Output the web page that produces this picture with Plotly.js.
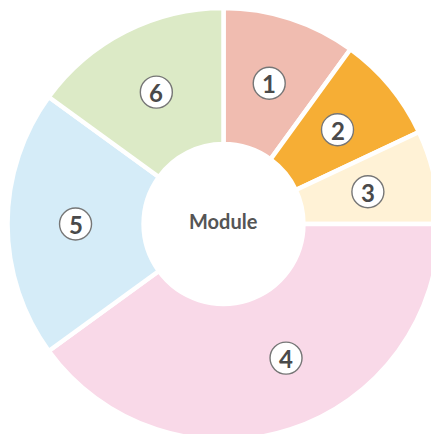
<!DOCTYPE html>
<html>
<head>
<meta charset="utf-8">
<script src="https://cdn.plot.ly/plotly-3.0.1.min.js"></script>
<style>
html,body{margin:0;padding:0;overflow:hidden;background:#fff;width:431px;height:434px;}
#chart{width:450px;height:450px;}
</style>
</head>
<body>
<div id="chart"></div>
<script>
// Data
var labels = ["1", "2", "3", "4", "5", "6"];
var values = [10, 8, 7, 40, 20, 15];
var colors = ["#F0BCB0", "#F6AE35", "#FFF2D6", "#F9D9E8", "#D5ECF8", "#DCEAC6"];
var centerText = "Module";

// Geometry / styling (pixels in a 450x450 plot area)
var W = 450, H = 450;
var cx = 223.5, cy = 224, R = 216, holeFrac = 0.37;
var badgeR = 16;
var badgeAngleNudgeDeg = [0, 0, 0, -7, 0, 0];

var total = values.reduce(function(a, b){ return a + b; }, 0);
var labelR = (R * holeFrac + R) / 2;
var shapes = [], annotations = [];
var cum = 0;
for (var i = 0; i < values.length; i++) {
  var th = 2 * Math.PI * (cum + values[i] / 2) / total + badgeAngleNudgeDeg[i] * Math.PI / 180;
  var px = cx + labelR * Math.sin(th);
  var py = cy - labelR * Math.cos(th);
  cum += values[i];
  shapes.push({
    type: "circle", xref: "paper", yref: "paper", layer: "above",
    x0: (px - badgeR) / W, x1: (px + badgeR) / W,
    y0: 1 - (py + badgeR) / H, y1: 1 - (py - badgeR) / H,
    fillcolor: "#ffffff", line: { color: "#767676", width: 1.4 }
  });
  annotations.push({
    text: "<b>" + labels[i] + "</b>",
    x: px / W, y: 1 - (py + 0.5) / H, xref: "paper", yref: "paper",
    showarrow: false, xanchor: "center", yanchor: "middle",
    font: { family: "Lato, sans-serif", size: 24, color: "#4a4a4a" }
  });
}
annotations.push({
  text: "<b>" + centerText + "</b>",
  x: cx / W, y: 1 - (cy - 3) / H, xref: "paper", yref: "paper",
  showarrow: false, xanchor: "center", yanchor: "middle",
  font: { family: "Lato, sans-serif", size: 20, color: "#555555" }
});

var pie = {
  type: "pie",
  labels: labels,
  values: values,
  sort: false,
  direction: "clockwise",
  rotation: 0,
  hole: holeFrac,
  textinfo: "none",
  hoverinfo: "none",
  marker: { colors: colors, line: { color: "#ffffff", width: 4.5 } },
  domain: { x: [(cx - R) / W, (cx + R) / W], y: [(H - cy - R) / H, (H - cy + R) / H] },
  showlegend: false
};

var layout = {
  width: W, height: H,
  margin: { l: 0, r: 0, t: 0, b: 0, pad: 0 },
  paper_bgcolor: "#ffffff",
  shapes: shapes,
  annotations: annotations
};

Plotly.newPlot("chart", [pie], layout, { displayModeBar: false, staticPlot: true });
</script>
</body>
</html>
